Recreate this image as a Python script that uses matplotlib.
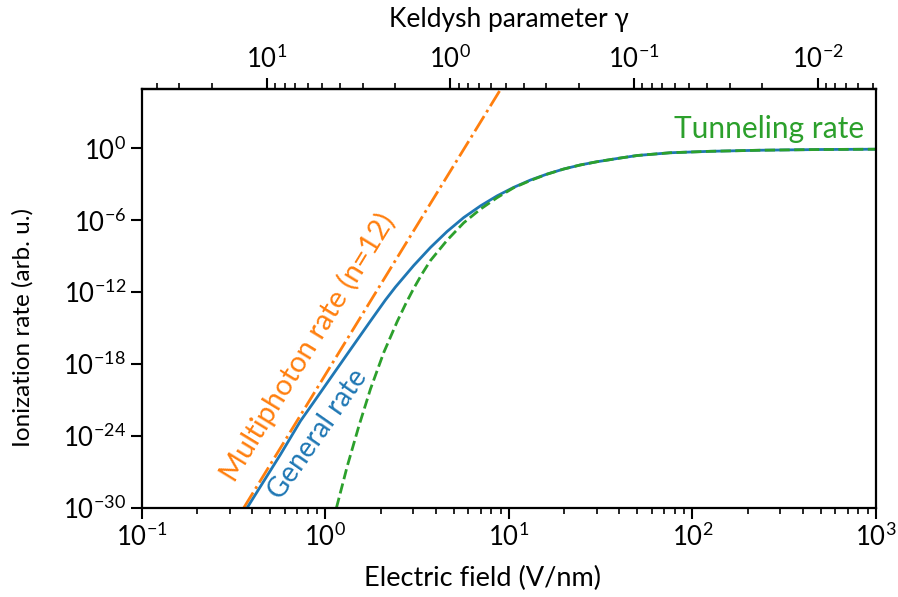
import matplotlib
matplotlib.use("Agg")
import matplotlib.pyplot as plt
from matplotlib.ticker import NullLocator, NullFormatter, FixedLocator
import numpy as np

# Values (field in V/nm, rate as log10)
general_field = [0.3745, 0.5688, 0.7308, 0.8636, 1.339, 1.758, 2.122, 2.406,
                 3.027, 3.732, 4.602, 5.666, 6.987, 8.614, 10.61, 13.08,
                 16.13, 19.86, 24.48, 30.19, 40.45, 50.03, 75.7, 125.0,
                 233.9, 496.6, 1000.0]
general_log_rate = [-30.0, -25.55, -22.76, -21.18, -17.00, -14.42, -12.66, -11.58,
                    -9.78, -8.28, -6.94, -5.78, -4.81, -3.97, -3.26, -2.65,
                    -2.15, -1.73, -1.39, -1.12, -0.81, -0.60, -0.37, -0.25,
                    -0.16, -0.10, -0.075]

tunnel_field = [1.148, 1.313, 1.518, 1.758, 2.077, 2.458, 2.728, 3.027, 3.359,
                3.732, 4.602, 5.666, 6.987, 8.614, 10.61, 13.08, 16.13, 19.86,
                24.48, 30.19, 40.45, 50.03, 75.7, 125.0, 233.9, 496.6, 1000.0]
tunnel_log_rate = [-30.0, -26.56, -23.22, -20.10, -17.05, -14.47, -13.02, -11.69, -10.48,
                   -9.37, -7.67, -6.22, -5.08, -4.12, -3.29, -2.69, -2.16, -1.73,
                   -1.39, -1.12, -0.81, -0.60, -0.37, -0.25, -0.16, -0.10, -0.075]

mpi_field = [0.359, 1.80, 9.09]
mpi_log_rate = [-30.0, -12.5, 5.03]

y_ticks = [1e-30, 1e-24, 1e-18, 1e-12, 1e-6, 1e0]
gamma_ticks = [10, 1, 0.1, 0.01]

# gamma = KELDYSH_CONST / E 
KELDYSH_CONST = 4.8

FONT = "Lato"


def plot_rates():
    plt.rcParams['font.family'] = [FONT, 'DejaVu Sans']
    plt.rcParams['mathtext.default'] = 'regular'
    plt.rcParams['font.size'] = 18.5

    fig = plt.figure(figsize=(8.98, 5.97), dpi=100)
    ax = fig.add_axes([0.1581, 0.1496, 0.8174, 0.7013])

    ax.plot(mpi_field, 10.0 ** np.array(mpi_log_rate), '-.', color='#ff7f0e', lw=2)
    ax.plot(general_field, 10.0 ** np.array(general_log_rate), '-', color='#1f77b4', lw=2)
    ax.plot(tunnel_field, 10.0 ** np.array(tunnel_log_rate), '--', color='#2ca02c', lw=2)

    ax.set_xscale('log')
    ax.set_yscale('log')
    ax.set_xlim(0.1, 1000)
    ax.set_ylim(1e-30, 10 ** 4.95)
    ax.set_yticks(y_ticks)
    ax.yaxis.set_minor_locator(NullLocator())

    for s in ax.spines.values():
        s.set_linewidth(1.6)
    ax.tick_params(which='major', length=8, width=1.5, direction='out')
    ax.tick_params(which='minor', length=4.5, width=1.2, direction='out')

    ax.set_xlabel('Electric field (V/nm)', fontsize=19.5)
    ax.set_ylabel('Ionization rate (arb. u.)', fontsize=17.5)
    ax.xaxis.set_label_coords(0.464, -0.14)
    ax.yaxis.set_label_coords(-0.148, 0.43)

    top = ax.secondary_xaxis('top', functions=(lambda e: KELDYSH_CONST / e,
                                               lambda g: KELDYSH_CONST / g))
    top.xaxis.set_major_locator(FixedLocator(gamma_ticks))
    top.xaxis.set_minor_formatter(NullFormatter())
    top.spines['top'].set_linewidth(1.6)
    top.tick_params(which='major', length=8, width=1.5)
    top.tick_params(which='minor', length=4.5, width=1.2)
    top.set_xlabel('Keldysh parameter γ', labelpad=13, fontsize=19)

    # curve labels
    ax.text(0.798, 10 ** -16.59, 'Multiphoton rate (n=12)', color='#ff7f0e',
            rotation=58.5, rotation_mode='anchor', ha='center', va='center', fontsize=21)
    ax.text(0.905, 10 ** -23.85, 'General rate', color='#1f77b4',
            rotation=55, rotation_mode='anchor', ha='center', va='center', fontsize=20)
    ax.text(862, 10 ** 0.835, 'Tunneling rate', color='#2ca02c',
            ha='right', va='baseline', fontsize=21.5)

    fig.savefig('out.png', dpi=100)
    plt.close(fig)


if __name__ == "__main__":
    plot_rates()
